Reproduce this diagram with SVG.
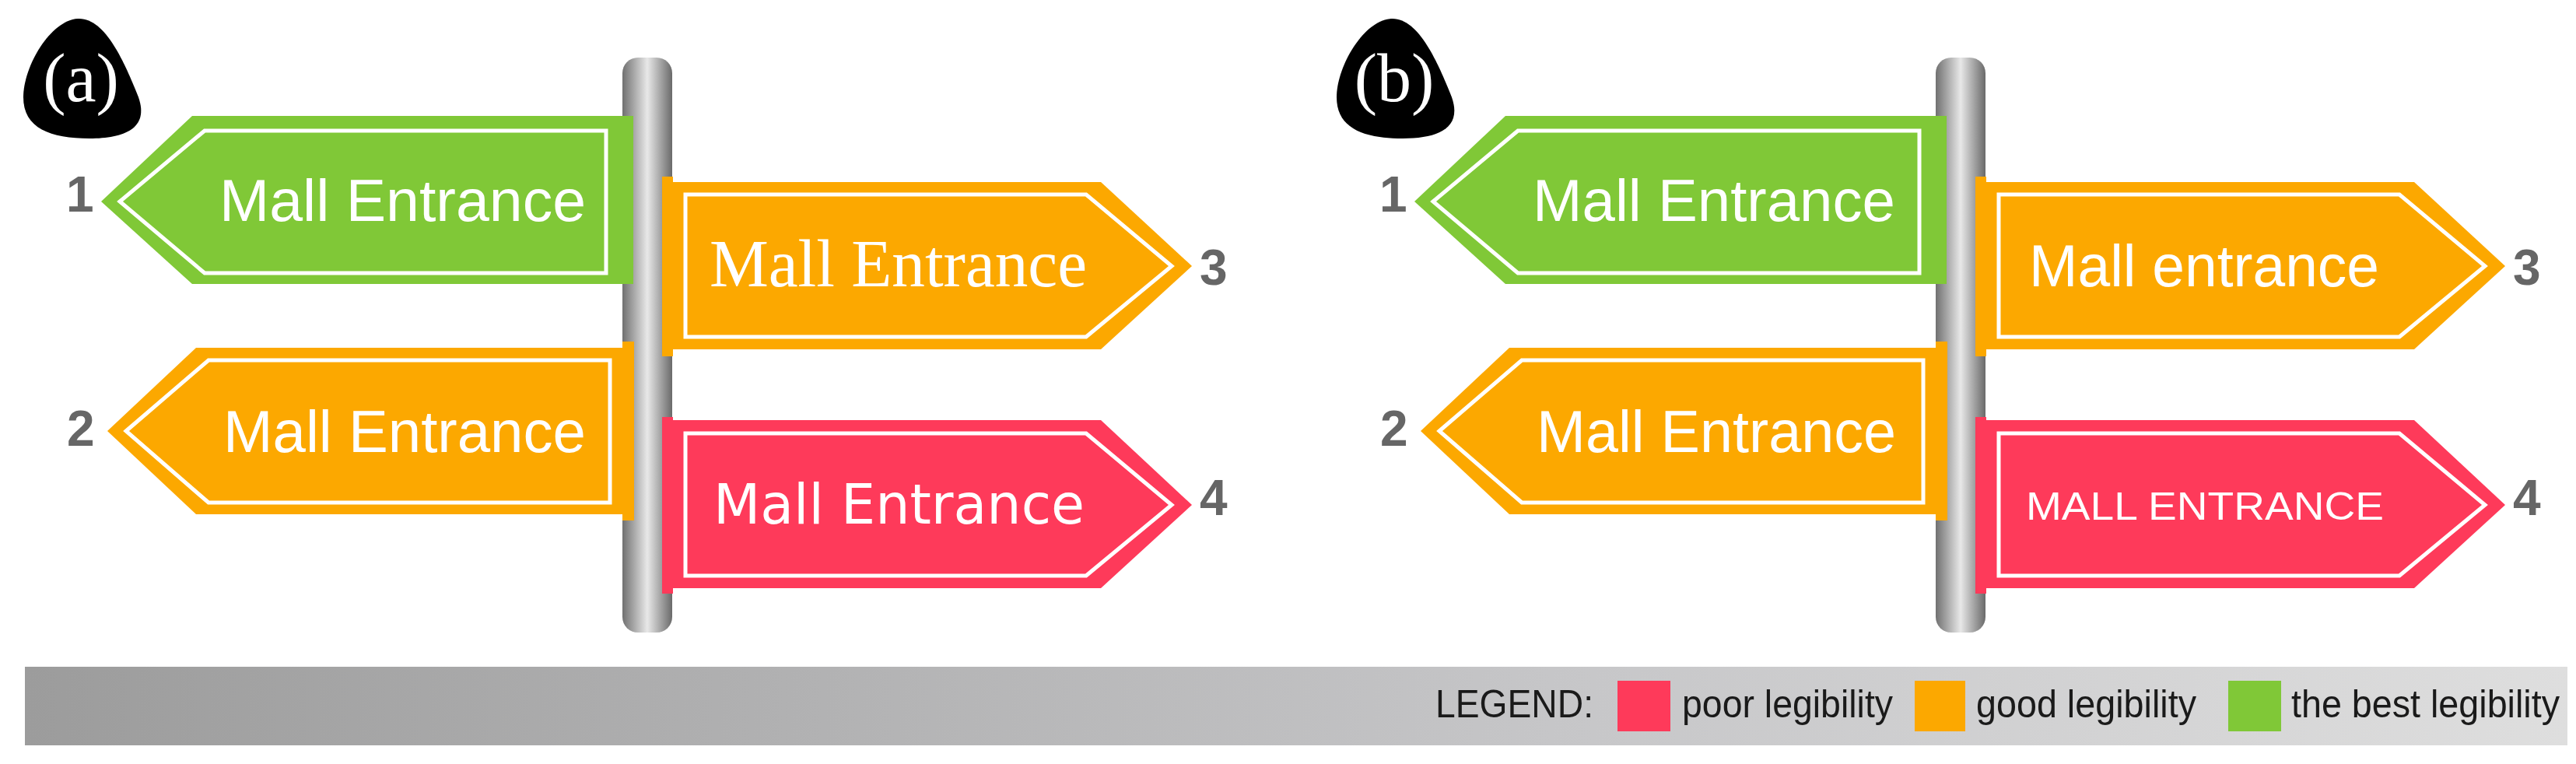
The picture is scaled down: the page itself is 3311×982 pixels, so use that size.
<svg xmlns="http://www.w3.org/2000/svg" width="3311" height="982" viewBox="0 0 3311 982">
<defs>
<linearGradient id="pole" x1="0" x2="1" y1="0" y2="0">
<stop offset="0" stop-color="#707070"/><stop offset="0.5" stop-color="#e8e8e8"/><stop offset="1" stop-color="#6a6a6a"/>
</linearGradient>
<linearGradient id="bar" x1="0" x2="1" y1="0" y2="0">
<stop offset="0" stop-color="#9c9c9c"/><stop offset="0.6" stop-color="#c6c6c8"/><stop offset="1" stop-color="#dedede"/>
</linearGradient>
<style>
.g{fill:#80c837}.o{fill:#fca800}.r{fill:#fe3a5a}
.in{fill:none;stroke:#fff;stroke-width:5}
.t{fill:#fff;font-family:"Liberation Sans",Arial,sans-serif;font-size:76px}
.ts{fill:#fff;font-family:"Liberation Serif",serif;font-size:86px}
.tc{fill:#fff;font-family:"DejaVu Sans",sans-serif;font-size:72px}
.n{fill:#666;font-family:"Liberation Sans",Arial,sans-serif;font-size:64px;font-weight:bold}
.lab{fill:#fff;font-family:"Liberation Serif",serif;font-size:88px}
.lg{fill:#1a1a1a;font-family:"Liberation Sans",Arial,sans-serif;font-size:50px}
</style>
<g id="signL1"><polygon points="130,259 247,149 814,149 814,365 247,365"/><polygon class="in" points="154,259 263,168 779,168 779,351 263,351"/></g>
<g id="signR1"><rect x="851" y="227" width="14" height="231"/><polygon points="851,234 1415,234 1532,342 1415,449 851,449"/><polygon class="in" points="881,250 1396,250 1506,342 1396,433 881,433"/></g>
<g id="signL2"><rect x="800" y="439" width="15" height="230"/><polygon points="138,554 252,447 800,447 800,661 252,661"/><polygon class="in" points="162,554 268,463 784,463 784,646 268,646"/></g>
<g id="signR2"><rect x="851" y="536" width="14" height="227"/><polygon points="851,540 1415,540 1532,649 1415,756 851,756"/><polygon class="in" points="881,557 1396,557 1506,649 1396,740 881,740"/></g>
<path id="blobD" d="M100,24 C135,22 160,80 178,125 C192,165 160,178 115,178 C65,178 30,165 30,125 C30,85 65,26 100,24 Z"/>
</defs>

<g id="panel-a">
<g id="blob-a"><use href="#blobD" fill="#000"/><text class="lab" x="104" y="130" text-anchor="middle">(a)</text></g>
<g id="pole-a"><rect x="800" y="74" width="64" height="739" rx="20" fill="url(#pole)"/></g>
<g id="a1"><use href="#signL1" class="g"/><text class="t" x="282" y="284" textLength="471" lengthAdjust="spacingAndGlyphs">Mall Entrance</text><text class="n" x="85" y="272">1</text></g>
<g id="a3"><use href="#signR1" class="o"/><text class="ts" x="912" y="368" textLength="485" lengthAdjust="spacingAndGlyphs">Mall Entrance</text><text class="n" x="1542" y="366">3</text></g>
<g id="a2"><use href="#signL2" class="o"/><text class="t" x="287" y="581" textLength="466" lengthAdjust="spacingAndGlyphs">Mall Entrance</text><text class="n" x="86" y="573">2</text></g>
<g id="a4"><use href="#signR2" class="r"/><text class="tc" x="917" y="673" textLength="477" lengthAdjust="spacingAndGlyphs">Mall Entrance</text><text class="n" x="1542" y="662">4</text></g>
</g>

<g id="panel-b" transform="translate(1688,0)">
<g id="blob-b"><use href="#blobD" fill="#000"/><text class="lab" x="104" y="130" text-anchor="middle">(b)</text></g>
<g id="pole-b"><rect x="800" y="74" width="64" height="739" rx="20" fill="url(#pole)"/></g>
<g id="b1"><use href="#signL1" class="g"/><text class="t" x="282" y="284" textLength="466" lengthAdjust="spacingAndGlyphs">Mall Entrance</text><text class="n" x="85" y="272">1</text></g>
<g id="b3"><use href="#signR1" class="o"/><text class="t" x="920" y="368" textLength="450" lengthAdjust="spacingAndGlyphs">Mall entrance</text><text class="n" x="1542" y="366">3</text></g>
<g id="b2"><use href="#signL2" class="o"/><text class="t" x="287" y="581" textLength="462" lengthAdjust="spacingAndGlyphs">Mall Entrance</text><text class="n" x="86" y="573">2</text></g>
<g id="b4"><use href="#signR2" class="r"/><text class="t" x="916" y="668" style="font-size:50px" textLength="460" lengthAdjust="spacingAndGlyphs">MALL ENTRANCE</text><text class="n" x="1542" y="662">4</text></g>
</g>

<g id="legend">
<rect x="32" y="857" width="3268" height="101" fill="url(#bar)"/>
<text class="lg" x="1845" y="922" textLength="203" lengthAdjust="spacingAndGlyphs">LEGEND:</text>
<rect class="r" x="2079" y="875" width="68" height="65"/>
<text class="lg" x="2162" y="922" textLength="271" lengthAdjust="spacingAndGlyphs">poor legibility</text>
<rect class="o" x="2461" y="875" width="65" height="65"/>
<text class="lg" x="2540" y="922" textLength="283" lengthAdjust="spacingAndGlyphs">good legibility</text>
<rect class="g" x="2864" y="875" width="68" height="65"/>
<text class="lg" x="2945" y="922" textLength="345" lengthAdjust="spacingAndGlyphs">the best legibility</text>
</g>
</svg>
